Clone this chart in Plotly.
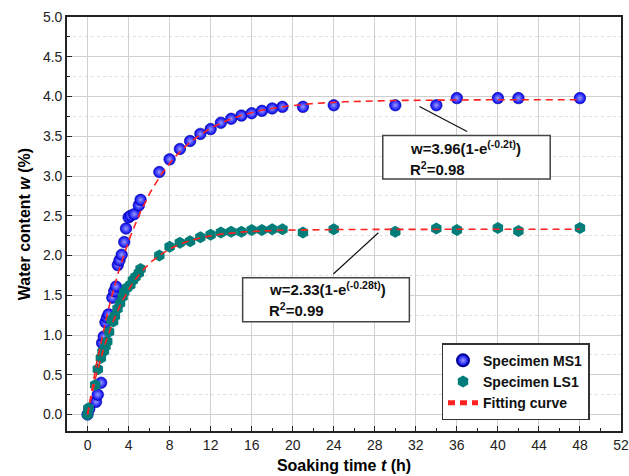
import numpy as np
import plotly.graph_objects as go

# Specimen MS1 measurements: soaking time (h) and water content (%)
t_ms1 = [0, 0.17, 0.83, 1.0, 1.33, 1.42, 1.58, 1.75, 1.9, 2.05, 2.42, 2.6, 2.78,
         2.95, 3.12, 3.33, 3.58, 3.75, 4.0, 4.2, 4.55, 5.0, 5.17,
         7, 8, 9, 10, 11, 12, 13, 14, 15, 16, 17, 18, 19, 21, 24, 30, 34, 36, 40, 42, 48]
w_ms1 = [0.0, 0.07, 0.16, 0.25, 0.40, 0.90, 0.98, 1.16, 1.22, 1.26, 1.47, 1.55, 1.61,
         1.88, 1.94, 2.01, 2.17, 2.34, 2.48, 2.50, 2.52, 2.63, 2.70,
         3.05, 3.21, 3.34, 3.44, 3.53, 3.59, 3.67, 3.72, 3.76, 3.79, 3.82, 3.85, 3.87,
         3.87, 3.89, 3.89, 3.89, 3.98, 3.98, 3.98, 3.98]

# Specimen LS1 measurements
t_ls1 = [0, 0.1, 0.75, 1.0, 1.3, 1.46, 1.6, 1.75, 1.92, 2.1, 2.33, 2.5, 2.67, 2.92,
         3.17, 3.42, 3.58, 3.83, 4.17, 4.42, 4.67, 5.0, 5.17,
         7, 8, 9, 10, 11, 12, 13, 14, 15, 16, 17, 18, 19, 21, 24, 30, 34, 36, 40, 42, 48]
w_ls1 = [0.0, 0.08, 0.37, 0.57, 0.71, 0.79, 0.80, 0.86, 0.92, 1.04, 1.19, 1.17, 1.24, 1.33,
         1.40, 1.48, 1.54, 1.59, 1.63, 1.69, 1.73, 1.78, 1.83,
         2.00, 2.11, 2.16, 2.18, 2.23, 2.26, 2.29, 2.30, 2.30, 2.32, 2.32, 2.33, 2.33,
         2.29, 2.33, 2.30, 2.34, 2.32, 2.345, 2.31, 2.345]

# Fitted model w = A(1 - exp(-k t))
fit_ms1 = {"A": 3.96, "k": 0.2, "r2": "0.98"}
fit_ls1 = {"A": 2.33, "k": 0.28, "r2": "0.99"}
t_fit = np.linspace(0, 48, 400)

x_ticks = list(range(0, 53, 4))
y_ticks = [round(0.5 * i, 1) for i in range(11)]

FONT = "Liberation Sans, Arial, sans-serif"

fig = go.Figure()

fig.add_trace(go.Scatter(
    x=t_ms1, y=w_ms1, mode="markers", name="<b>Specimen MS1</b>",
    marker=dict(symbol="circle", size=11.5, color="#0000f5",
                gradient=dict(type="radial", color="#9a9aff"),
                line=dict(width=0.6, color="#000090")),
))
fig.add_trace(go.Scatter(
    x=t_ls1, y=w_ls1, mode="markers", name="<b>Specimen LS1</b>",
    marker=dict(symbol="hexagon", size=12, color="#007d79",
                line=dict(width=0)),
))
for i, fit in enumerate([fit_ms1, fit_ls1]):
    fig.add_trace(go.Scatter(
        x=t_fit, y=fit["A"] * (1 - np.exp(-fit["k"] * t_fit)), mode="lines",
        name="<b>Fitting curve</b>", legendgroup="fit", showlegend=(i == 0),
        line=dict(color="#ff2020", width=1.6, dash="7px,5px"),
    ))

# Equation boxes with leader lines
boxes = [
    dict(fit=fit_ms1, x0=28.78, x1=45.1, y0=2.963, y1=3.509, tx=31.2,
         ly=(3.36, 3.10), lead=(32.35, 3.874, 37.0, 3.559)),
    dict(fit=fit_ls1, x0=15.12, x1=31.37, y0=1.166, y1=1.720, tx=17.45,
         ly=(1.585, 1.315), lead=(28.35, 2.287, 23.96, 1.767)),
]
for b in boxes:
    fig.add_shape(type="rect", x0=b["x0"], x1=b["x1"], y0=b["y0"], y1=b["y1"],
                  xref="x", yref="y", line=dict(color="#444", width=1.5),
                  fillcolor="white", layer="above")
    lx0, ly0, lx1, ly1 = b["lead"]
    fig.add_shape(type="line", x0=lx0, y0=ly0, x1=lx1, y1=ly1, xref="x", yref="y",
                  line=dict(color="#111", width=1.2), layer="above")
    f = b["fit"]
    fig.add_annotation(x=b["tx"], y=b["ly"][0], xref="x", yref="y",
                       xanchor="left", yanchor="middle", showarrow=False,
                       text=f"<b>w={f['A']:.2f}(1-e<sup>(-{f['k']:g}t)</sup>)</b>",
                       font=dict(family=FONT, size=15, color="#111"))
    fig.add_annotation(x=b["tx"], y=b["ly"][1], xref="x", yref="y",
                       xanchor="left", yanchor="middle", showarrow=False,
                       text=f"<b>R<sup>2</sup>={f['r2']}</b>",
                       font=dict(family=FONT, size=15, color="#111"))

axis_common = dict(
    showline=True, linecolor="#222", linewidth=1.6, mirror=True,
    ticks="inside", ticklen=5, tickwidth=1.2, tickcolor="#222",
    tickfont=dict(family=FONT, size=14, color="#222"),
    showgrid=True, gridcolor="#d0d0d0", gridwidth=1, zeroline=False,
)

fig.update_xaxes(
    range=[-2, 52], tickmode="array", tickvals=x_ticks,
    ticktext=[str(v) for v in x_ticks],
    minor=dict(dtick=2, tick0=0, ticks="inside", ticklen=3, tickcolor="#222", showgrid=False),
    title=dict(text="<b>Soaking time <i>t</i> (h)</b>", font=dict(family=FONT, size=16, color="#000"),
               standoff=8),
    **axis_common,
)
fig.update_yaxes(
    range=[-0.207, 5.0], tickmode="array", tickvals=y_ticks,
    ticktext=[f"{v:.1f}" for v in y_ticks],
    minor=dict(dtick=0.25, tick0=0, ticks="inside", ticklen=3, tickcolor="#222",
               showgrid=True, gridcolor="#dedede", griddash="dot", gridwidth=1),
    title=dict(text="<b>Water content <i>w</i> (%)</b>", font=dict(family=FONT, size=16, color="#000"),
               standoff=8),
    **axis_common,
)

fig.update_layout(
    width=629, height=476,
    margin=dict(l=67, r=8, t=17, b=45, autoexpand=False),
    paper_bgcolor="white", plot_bgcolor="white",
    font=dict(family=FONT),
    legend=dict(x=0.676, y=0.212, xanchor="left", yanchor="top",
                bgcolor="white", bordercolor="#333", borderwidth=1.5,
                font=dict(family=FONT, size=14, color="#111"),
                tracegroupgap=0, itemsizing="constant"),
)

fig.write_html("out.html")
